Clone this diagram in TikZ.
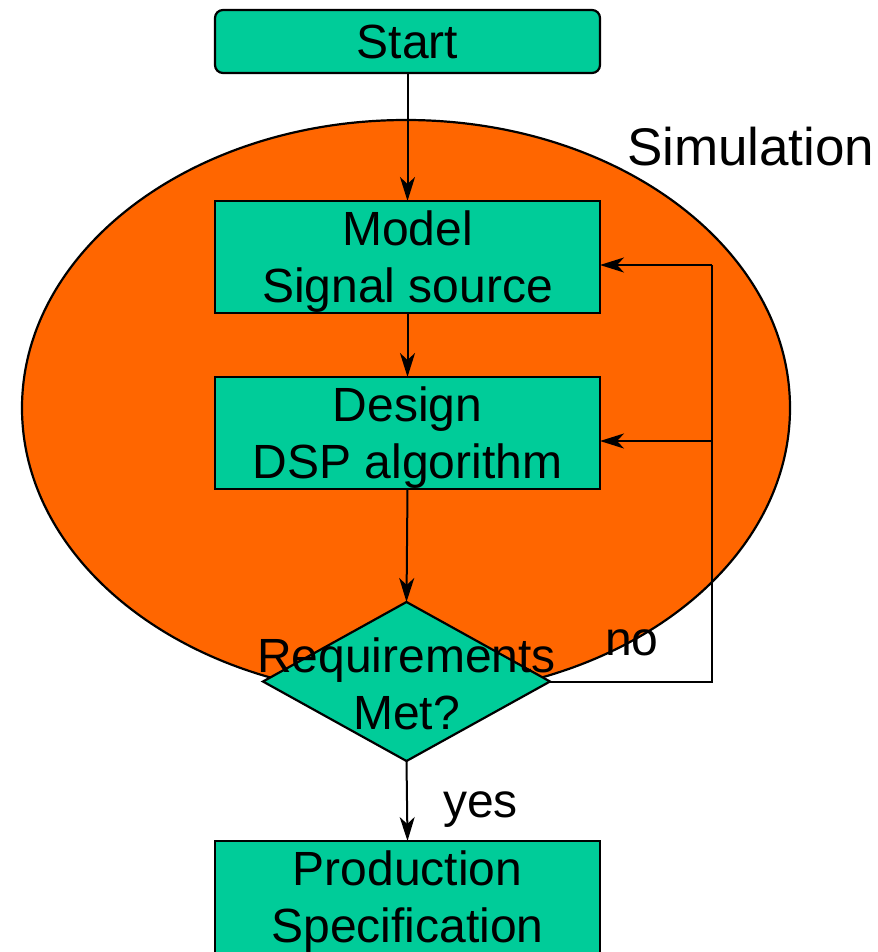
\documentclass[tikz,border=0pt]{standalone}
\usepackage{fontspec}
\setmainfont{Liberation Sans}
\usetikzlibrary{arrows.meta,shapes.geometric,calc}
\definecolor{boxgreen}{RGB}{0,204,153}
\definecolor{simorange}{RGB}{255,102,0}
\begin{document}
\begin{tikzpicture}[x=1bp,y=-1bp,
  every node/.style={inner sep=0pt,outer sep=0pt},
  txt/.style={font=\fontsize{48bp}{57bp}\selectfont,align=center},
  boxtxt/.style={txt,yshift=-5bp},
  stepbox/.style={draw,line width=2.2bp,fill=boxgreen,minimum width=385bp,minimum height=112bp},
  flow/.style={draw,line width=2bp,-{Stealth[length=24bp,width=15bp,inset=7bp]}},
  plain/.style={draw,line width=2bp}]
\useasboundingbox (0,0) rectangle (878,952);

% simulation region
\node[ellipse,draw,line width=2.2bp,fill=simorange,minimum width=768bp,minimum height=576bp] (sim) at (406,408) {};

% process boxes
\node[stepbox,rounded corners=8bp,minimum height=63bp] (start) at (407.5,41.5) {};
\node[txt] at (start.center) {Start};
\node[stepbox] (model) at (407.5,257) {};
\node[boxtxt] at (model.center) {Model\\Signal source};
\node[stepbox] (design) at (407.5,433) {};
\node[boxtxt] at (design.center) {Design\\DSP algorithm};
\node[stepbox] (prod) at (407.5,897) {};
\node[boxtxt] at (prod.center) {Production\\Specification};

% main flow
\draw[flow] (start.south) -- (model.north);
\draw[flow] (model.south) -- (design.north);

% decision
\node[diamond,draw,line width=2.2bp,fill=boxgreen,minimum width=287bp,minimum height=159bp] (req) at (406.5,681.5) {};
\draw[flow] (design.south) -- (req.north);
\node[txt,yshift=-2bp] at (req.center) {Requirements\\Met?};
\draw[flow] (req.south) -- (prod.north);

% feedback loop
\coordinate (mIn) at ($(model.east)+(0,8)$);
\coordinate (dIn) at ($(design.east)+(0,8)$);
\coordinate (loopTop) at (712,265);
\draw[plain] (req.east) -| (loopTop);
\draw[flow] (loopTop) -- (mIn);
\draw[flow] (dIn -| loopTop) -- (dIn);

% labels
\node[txt,font=\fontsize{53bp}{60bp}\selectfont,anchor=base west] at (627,165) {Simulation};
\node[txt,anchor=base west] at (605,655) {no};
\node[txt,anchor=base west] at (443,817) {yes};
\end{tikzpicture}
\end{document}
